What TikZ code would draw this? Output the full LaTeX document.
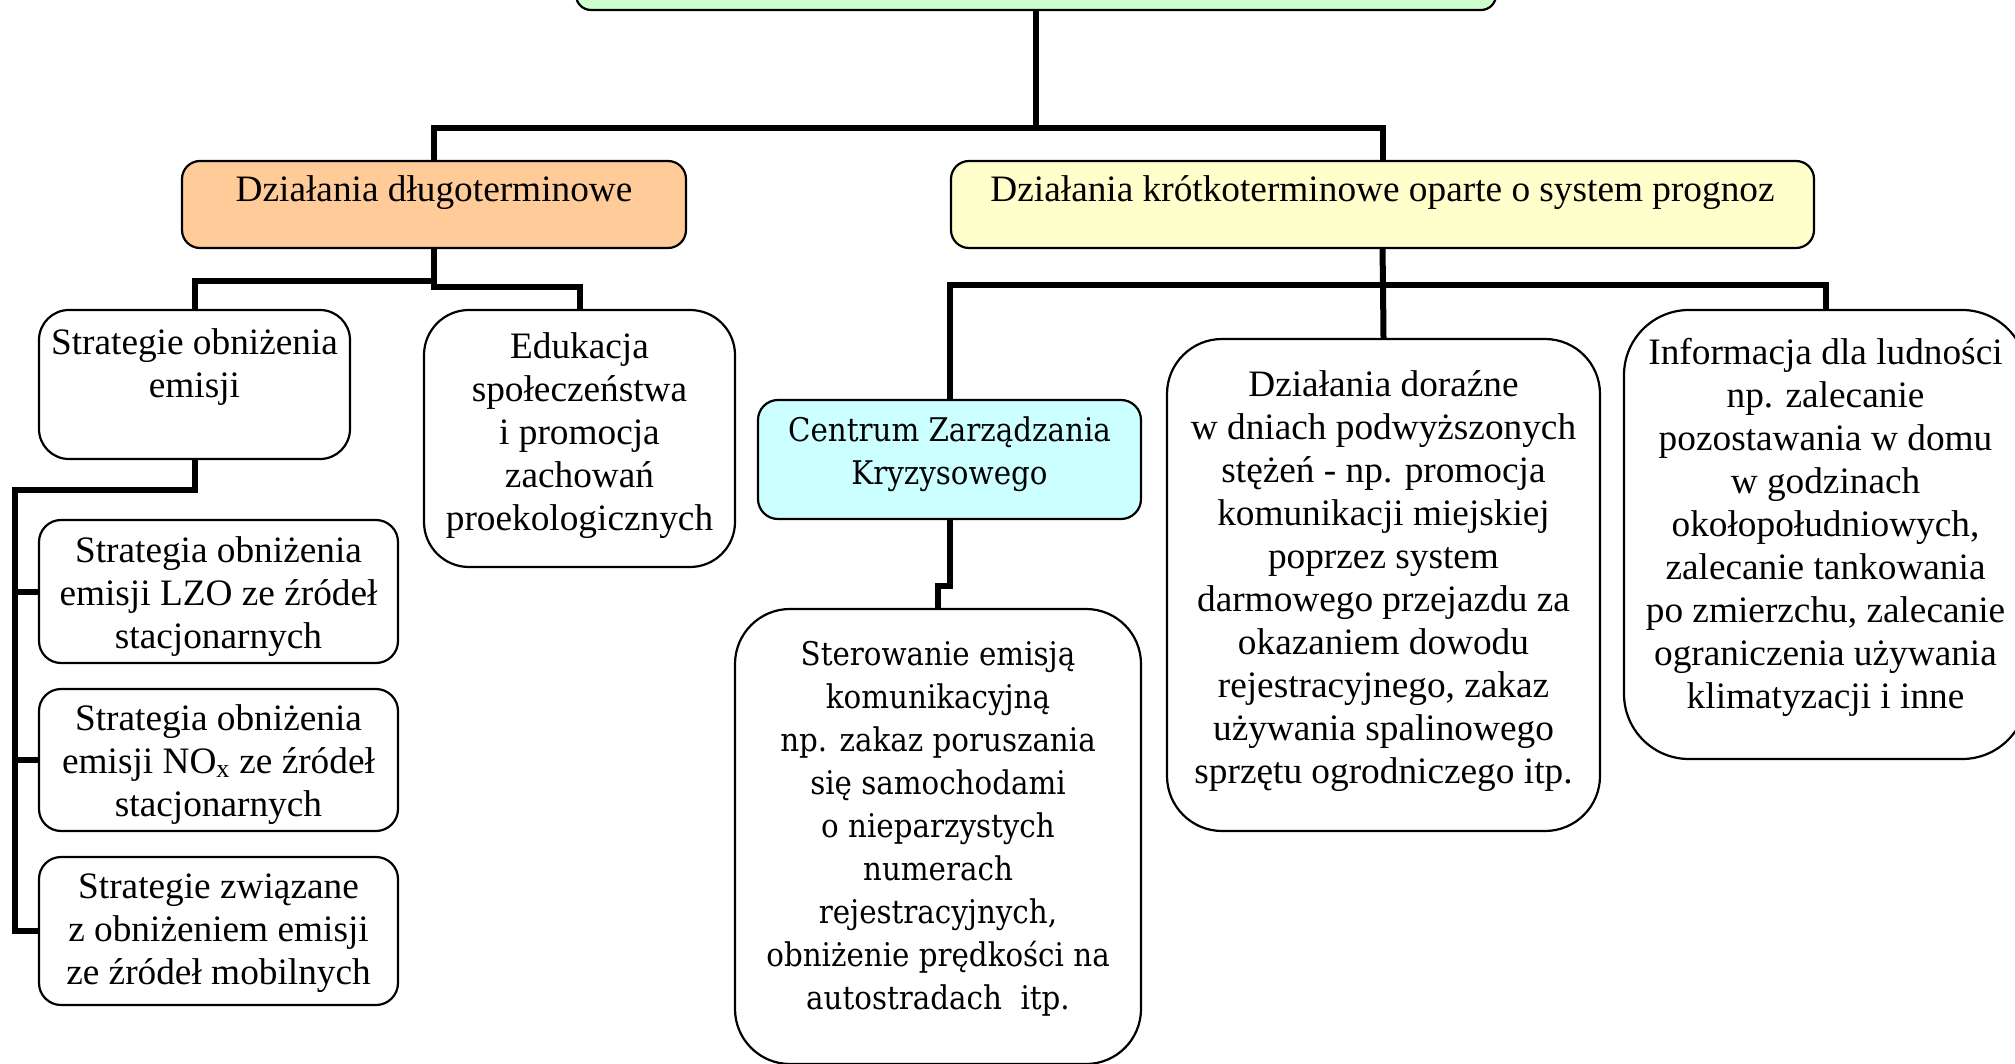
\documentclass[tikz,border=0pt]{standalone}
\usepackage{fontspec}
\setmainfont{Liberation Serif}
\newfontfamily\centfont{DejaVu Serif Condensed}
\definecolor{cgreen}{HTML}{CCFFCC}
\definecolor{corange}{HTML}{FFCC99}
\definecolor{cyellow}{HTML}{FFFFCC}
\definecolor{ccyan}{HTML}{CCFFFF}
\newcommand\tmsize{\fontsize{37.3pt}{43pt}\selectfont}
\newcommand\cfsize{\centfont\fontsize{32.6pt}{43pt}\selectfont}
\tikzset{
  bx/.style={draw, line width=2.2pt, rounded corners=#1, inner sep=0pt, fill=white},
  conn/.style={line width=6pt, line join=miter},
  txt/.style={align=center, inner sep=0pt, font=\tmsize},
  ctxt/.style={align=center, inner sep=0pt, font=\cfsize}
}
\begin{document}
\begin{tikzpicture}[x=1pt,y=-1pt]
\useasboundingbox (0,0) rectangle (2015,1064);
% boxes
\node[bx=15pt, fill=cgreen, minimum width=920pt, minimum height=80pt] (green) at (1036,-30) {};
\node[bx=18pt, fill=corange, minimum width=504pt, minimum height=87pt] (orange) at (434,204.5) {};
\node[bx=18pt, fill=cyellow, minimum width=863pt, minimum height=87pt] (yellow) at (1382.5,204.5) {};
\node[bx=30pt, minimum width=311pt, minimum height=149pt] (strat) at (194.5,384.5) {};
\node[bx=45pt, minimum width=311pt, minimum height=257pt] (edu) at (579.5,438.5) {};
\node[bx=22pt, minimum width=359pt, minimum height=143pt] (lzo) at (218.5,591.5) {};
\node[bx=22pt, minimum width=359pt, minimum height=142pt] (nox) at (218.5,760) {};
\node[bx=22pt, minimum width=359pt, minimum height=148pt] (mob) at (218.5,931) {};
\node[bx=20pt, fill=ccyan, minimum width=383pt, minimum height=119pt] (centrum) at (949.5,459.5) {};
\node[bx=55pt, minimum width=406pt, minimum height=455pt] (ster) at (938,836.5) {};
\node[bx=55pt, minimum width=433pt, minimum height=492pt] (doraz) at (1383.5,585) {};
\node[bx=65pt, minimum width=403pt, minimum height=449pt] (info) at (1825.5,534.5) {};
% texts
\node[txt] (orange-t) at (434,193) {\strut Działania długoterminowe\strut};
\node[txt] (yellow-t) at (1382.5,193) {\strut Działania krótkoterminowe oparte o system prognoz\strut};
\node[txt] (strat-t) at (194.5,367) {\strut Strategie obniżenia\\emisji\strut};
\node[txt] (edu-t) at (579.5,436) {\strut Edukacja\\społeczeństwa\\i promocja\\zachowań\\proekologicznych\strut};
\node[txt] (lzo-t) at (218.5,597) {\strut Strategia obniżenia\\emisji LZO ze źródeł\\stacjonarnych\strut};
\node[txt] (nox-t) at (218.5,765) {\strut Strategia obniżenia\\emisji NO\textsubscript{x} ze źródeł\\stacjonarnych\strut};
\node[txt] (mob-t) at (218.5,933) {\strut Strategie związane\\z obniżeniem emisji\\ze źródeł mobilnych\strut};
\node[ctxt] (centrum-t) at (949.5,454) {\strut Centrum Zarządzania\\Kryzysowego\strut};
\node[ctxt] (ster-t) at (938,829) {\strut Sterowanie emisją\\komunikacyjną\\np. zakaz poruszania\\się samochodami\\o nieparzystych\\numerach\\rejestracyjnych,\\obniżenie prędkości na\\autostradach~~itp.\strut};
\node[txt] (doraz-t) at (1383.5,581) {\strut Działania doraźne\\w dniach podwyższonych\\stężeń - np. promocja\\komunikacji miejskiej\\poprzez system\\darmowego przejazdu za\\okazaniem dowodu\\rejestracyjnego, zakaz\\używania spalinowego\\sprzętu ogrodniczego itp.\strut};
\node[txt] (info-t) at (1825.5,528) {\strut Informacja dla ludności\\np. zalecanie\\pozostawania w domu\\w godzinach\\okołopołudniowych,\\zalecanie tankowania\\po zmierzchu, zalecanie\\ograniczenia używania\\klimatyzacji i inne\strut};
% connectors
\coordinate (j0) at (1036,128);
\draw[conn] (green.south) -- (j0);
\draw[conn] (orange.north) |- (j0) -| (yellow.north);
\coordinate (ja) at (434,281);
\coordinate (jb) at (434,287);
\draw[conn] (orange.south) -- (ja);
\draw[conn] (strat.north) |- (ja) -- (jb) -| (edu.north);
\coordinate (j2) at (14.5,490);
\draw[conn] (strat.south) |- (j2) |- (mob.west);
\draw[conn] (j2 |- lzo.west) -- (lzo.west);
\draw[conn] (j2 |- nox.west) -- (nox.west);
\coordinate (j3) at (1383,285);
\draw[conn] (yellow.south) -- (j3);
\draw[conn] (centrum.north) |- (j3) -| (info.north);
\draw[conn] (j3) -- (doraz.north);
\draw[conn] (centrum.south) -- ++(0,66) -| (ster.north);
\end{tikzpicture}
\end{document}
